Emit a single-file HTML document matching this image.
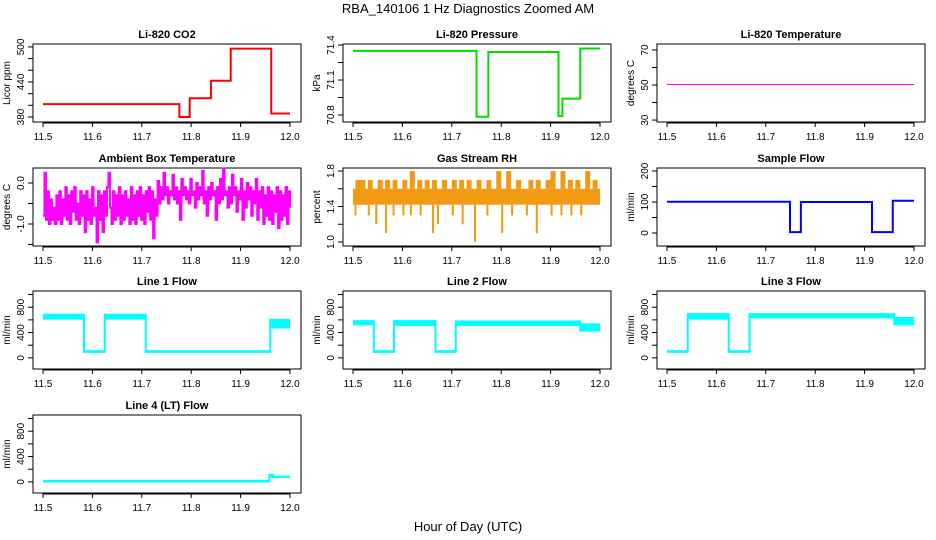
<!DOCTYPE html>
<html><head><meta charset="utf-8">
<style>
body{margin:0;background:#fff;}
svg{display:block;font-family:"Liberation Sans",Arial,sans-serif;}
</style></head>
<body>
<svg id="root" width="936" height="540" viewBox="0 0 936 540" xmlns="http://www.w3.org/2000/svg">
<text x="468" y="13" text-anchor="middle" font-size="13">RBA_140106  1 Hz Diagnostics Zoomed AM</text>
<text x="468" y="531" text-anchor="middle" font-size="13">Hour of Day (UTC)</text>
</svg>
<script>
// ---- data ----
const xTicks = [11.5, 11.6, 11.7, 11.8, 11.9, 12.0];
const xTickLabels = ["11.5", "11.6", "11.7", "11.8", "11.9", "12.0"];
// step series: [start time, value]
const co2Steps = [[11.5,402],[11.776,380],[11.797,412],[11.84,442],[11.88,497],[11.962,386],[12.0,386]];
const pressureSteps = [[11.5,71.35],[11.75,70.785],[11.774,71.34],[11.916,70.79],[11.924,70.94],[11.96,71.37],[12.0,71.37]];
const tempSteps = [[11.5,50.3],[12.0,50.3]];
const sampleSteps = [[11.5,101],[11.749,3],[11.771,100],[11.915,3],[11.957,104],[12.0,104]];
// band series: [start, end, low, high]
const line1Bands = [[11.5,11.583,620,680],[11.583,11.625,95,105],[11.625,11.708,620,680],[11.708,11.96,95,105],[11.96,12.0,480,600]];
const line2Bands = [[11.5,11.542,530,580],[11.542,11.583,95,105],[11.583,11.667,520,580],[11.667,11.708,95,105],[11.708,11.96,520,575],[11.96,12.0,430,530]];
const line3Bands = [[11.5,11.542,95,105],[11.542,11.625,620,690],[11.625,11.667,95,105],[11.667,11.96,640,690],[11.96,12.0,530,630]];
const line4Bands = [[11.5,11.958,5,15],[11.958,11.966,80,110],[11.966,12.0,78,84]];
const ambientValues = [-0.8,0.25,-0.9,-0.2,-1.0,-0.4,-0.9,-0.6,-1.0,-0.3,-0.9,-0.2,-1.0,-0.4,-0.8,-0.1,-0.9,-0.3,-1.0,-0.2,-0.7,-0.1,-0.9,-0.5,-1.0,-0.2,-0.8,-0.3,-1.2,-0.2,-0.9,-0.4,-1.0,-0.1,-0.8,-0.6,-1.45,-0.2,-0.9,-0.3,-1.2,-0.2,-0.8,-0.1,0.25,-0.6,-1.0,-0.2,-0.9,-0.3,-0.8,-0.1,-1.0,-0.3,-0.9,-0.2,-0.8,-0.4,-1.0,-0.1,-0.9,-0.3,-1.0,-0.2,-0.8,-0.1,-0.9,-0.3,-1.0,-0.2,-0.7,-0.1,-0.9,-0.2,-1.35,-0.4,-0.8,0.05,-0.5,-0.1,-0.4,0.25,-0.3,-0.1,-0.5,-0.2,-0.3,0.2,-0.4,-0.1,-0.5,-0.2,-0.9,0.1,-0.3,-0.1,-0.4,-0.2,-0.5,0.1,-0.3,-0.2,-0.6,0.0,-0.4,-0.1,-0.3,0.3,-0.5,-0.2,-0.8,-0.1,-0.4,0.0,-0.3,-0.2,-0.9,-0.1,-0.5,0.1,-0.4,0.35,-0.3,-0.2,-0.6,-0.1,-0.5,0.2,-0.3,-0.1,-0.7,-0.2,-0.4,0.1,-0.9,-0.2,-0.6,0.0,-0.4,-0.1,-0.8,-0.2,-0.5,0.1,-0.9,-0.2,-0.6,-0.1,-1.0,-0.3,-0.8,-0.1,-0.9,-0.2,-1.0,-0.3,-0.7,-0.1,-1.1,-0.2,-0.9,-0.3,-0.8,-0.1,-1.0,-0.2,-0.6];
const rhBand = [1.42, 1.6];
const rhUpTimes = [11.505,11.515,11.53,11.55,11.565,11.58,11.6,11.615,11.63,11.645,11.66,11.68,11.7,11.715,11.73,11.75,11.77,11.79,11.81,11.83,11.855,11.87,11.89,11.9,11.92,11.935,11.95,11.97,11.985];
const rhUpValues = [1.7,1.7,1.7,1.7,1.7,1.7,1.7,1.8,1.7,1.7,1.7,1.7,1.7,1.7,1.7,1.7,1.7,1.8,1.8,1.7,1.7,1.7,1.7,1.8,1.8,1.7,1.7,1.8,1.7];
const rhDownTimes = [11.503,11.53,11.545,11.565,11.58,11.6,11.615,11.635,11.66,11.67,11.7,11.72,11.745,11.77,11.8,11.82,11.85,11.87,11.9,11.92,11.94,11.96];
const rhDownValues = [1.3,1.3,1.2,1.1,1.3,1.3,1.3,1.3,1.1,1.2,1.3,1.2,1.0,1.3,1.1,1.3,1.3,1.1,1.3,1.3,1.3,1.3];

// ---- layout ----
const colLeft = [33, 343, 657];
const rowTop = [44, 168, 291, 415];
const boxW = 268, boxH = 78;
const svg = document.getElementById('root');
const NS = 'http://www.w3.org/2000/svg';
const RH_COLOR = '#f39a14';
function mk(tag, attrs, parent) {
  const e = document.createElementNS(NS, tag);
  for (const k in attrs) e.setAttribute(k, attrs[k]);
  (parent || svg).appendChild(e);
  return e;
}
function panel(row, col, title, ylab, ylim, yTicks, yLabels, nameKey) {
  const L = colLeft[col], T = rowTop[row];
  const g = mk('g', {});
  
  
  const xs = v => L + 10 + (v - 11.5) / 0.5 * 247;
  const ys = v => T + boxH - (v - ylim[0]) / (ylim[1] - ylim[0]) * boxH;
  const box = mk('rect', {x: L, y: T, width: boxW, height: boxH, fill: 'none', stroke: '#000', 'stroke-width': 1}, g);
  
  
  const t = mk('text', {x: L + boxW / 2, y: T - 6, 'text-anchor': 'middle', 'font-size': 11, 'font-weight': 'bold'}, g);
  t.textContent = title;
  
  
  const xa = mk('g', {}, g);
  
  
  mk('line', {x1: xs(11.5), x2: xs(12), y1: T + boxH + 1, y2: T + boxH + 1, stroke: '#000'}, xa);
  xTicks.forEach((v, i) => {
    mk('line', {x1: xs(v), x2: xs(v), y1: T + boxH, y2: T + boxH + 5, stroke: '#000'}, xa);
    const tl = mk('text', {x: xs(v), y: T + boxH + 18, 'text-anchor': 'middle', 'font-size': 10}, xa);
    tl.textContent = xTickLabels[i];
    
    
  });
  const ya = mk('g', {}, g);
  
  
  yTicks.forEach((v, i) => {
    mk('line', {x1: L - 5, x2: L, y1: ys(v), y2: ys(v), stroke: '#000'}, ya);
    if (yLabels[i]) {
      const yl = mk('text', {x: 0, y: 0, transform: `translate(${L - 9},${ys(v)}) rotate(-90)`, 'text-anchor': 'middle', 'font-size': 10}, ya);
      yl.textContent = yLabels[i];
      
      
    }
  });
  const at = mk('text', {x: 0, y: 0, transform: `translate(${L - 23},${T + boxH / 2}) rotate(-90)`, 'text-anchor': 'middle', 'font-size': 10}, g);
  at.textContent = ylab;
  
  
  return {g, xs, ys};
}
function drawSteps(p, steps, color, w, name) {
  let d = '';
  steps.forEach((s, i) => {
    d += (i ? 'L' : 'M') + p.xs(s[0]) + ',' + p.ys(i ? steps[i - 1][1] : s[1]);
    if (i) d += 'L' + p.xs(s[0]) + ',' + p.ys(s[1]);
  });
  const e = mk('path', {d, fill: 'none', stroke: color, 'stroke-width': w}, p.g);
  
  
}
function drawBands(p, bands, color, name) {
  const grp = mk('g', {}, p.g);
  
  
  bands.forEach((b, i) => {
    const y1 = p.ys(b[3]), y2 = p.ys(b[2]);
    mk('rect', {x: p.xs(b[0]), y: y1 - 1, width: Math.max(1, p.xs(b[1]) - p.xs(b[0])), height: Math.max(2, y2 - y1 + 2), fill: color}, grp);
    if (i > 0) {
      const prev = bands[i - 1];
      const top = Math.min(p.ys(prev[3]), y1), bot = Math.max(p.ys(prev[2]), y2);
      mk('rect', {x: p.xs(b[0]) - 1, y: top - 1, width: 2, height: bot - top + 2, fill: color}, grp);
    }
  });
}
const flowTicks = [0, 200, 400, 600, 800, 1000];
const flowLabels = ["0", "", "400", "", "800", ""];
const flowLim = [-176, 1056];

let p = panel(0, 0, 'Li-820 CO2', 'Licor ppm', [371.4, 505], [380, 400, 420, 440, 460, 480, 500], ["380", "", "", "440", "", "", "500"], 'co2');
drawSteps(p, co2Steps, '#ff0000', 2, 'co2-series');
p = panel(0, 1, 'Li-820 Pressure', 'kPa', [70.74, 71.409], [70.8, 70.95, 71.1, 71.25, 71.4], ["70.8", "", "71.1", "", "71.4"], 'pressure');
drawSteps(p, pressureSteps, '#00dd00', 2, 'pressure-series');
p = panel(0, 2, 'Li-820 Temperature', 'degrees C', [28.9, 73.4], [30, 40, 50, 60, 70], ["30", "", "50", "", "70"], 'temperature');
drawSteps(p, tempSteps, '#ff00ff', 1, 'temperature-series');

p = panel(1, 0, 'Ambient Box Temperature', 'degrees C', [-1.537, 0.366], [-1.5, -1.0, -0.5, 0.0], ["", "-1.0", "", "0.0"], 'ambient');
(function () {
  const n = ambientValues.length;
  const steps = ambientValues.map((v, i) => [11.5 + 0.5 * i / (n - 1), v]);
  drawSteps(p, steps, '#ff00ff', 2, 'ambient-series');
})();
p = panel(1, 1, 'Gas Stream RH', 'percent', [0.955, 1.834], [1.0, 1.2, 1.4, 1.6, 1.8], ["1.0", "", "1.4", "", "1.8"], 'rh');
(function () {
  const grp = mk('g', {}, p.g);
  
  
  mk('rect', {x: p.xs(11.5), y: p.ys(rhBand[1]), width: p.xs(12) - p.xs(11.5), height: p.ys(rhBand[0]) - p.ys(rhBand[1]), fill: RH_COLOR}, grp);
  rhUpTimes.forEach((t, i) => {
    mk('rect', {x: p.xs(t), y: p.ys(rhUpValues[i]), width: 5, height: p.ys(rhBand[1]) - p.ys(rhUpValues[i]), fill: RH_COLOR}, grp);
  });
  rhDownTimes.forEach((t, i) => {
    mk('rect', {x: p.xs(t), y: p.ys(rhBand[0]), width: 2, height: p.ys(rhDownValues[i]) - p.ys(rhBand[0]), fill: RH_COLOR}, grp);
  });
})();
p = panel(1, 2, 'Sample Flow', 'ml/min', [-41.9, 209.7], [0, 50, 100, 150, 200], ["0", "", "100", "", "200"], 'sample-flow');
drawSteps(p, sampleSteps, '#0000ff', 2, 'sample-flow-series');

p = panel(2, 0, 'Line 1 Flow', 'ml/min', flowLim, flowTicks, flowLabels, 'line1-flow');
drawBands(p, line1Bands, '#00ffff', 'line1-flow-series');
p = panel(2, 1, 'Line 2 Flow', 'ml/min', flowLim, flowTicks, flowLabels, 'line2-flow');
drawBands(p, line2Bands, '#00ffff', 'line2-flow-series');
p = panel(2, 2, 'Line 3 Flow', 'ml/min', flowLim, flowTicks, flowLabels, 'line3-flow');
drawBands(p, line3Bands, '#00ffff', 'line3-flow-series');
p = panel(3, 0, 'Line 4 (LT) Flow', 'ml/min', flowLim, flowTicks, flowLabels, 'line4-flow');
drawBands(p, line4Bands, '#00ffff', 'line4-flow-series');
</script>
</body></html>
